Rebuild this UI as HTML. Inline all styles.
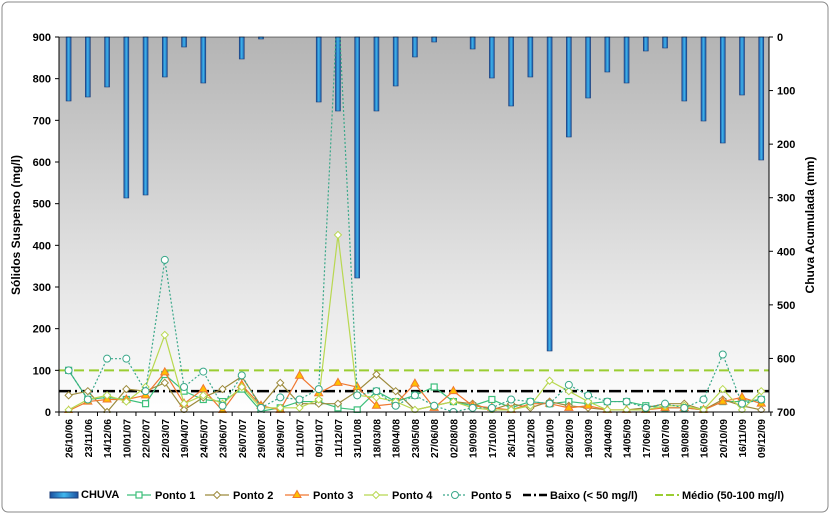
<!DOCTYPE html>
<html><head><meta charset="utf-8"><style>
body{margin:0;background:#fff;font-family:"Liberation Sans",sans-serif;}
</style></head><body>
<svg id="s" width="832" height="516" xmlns="http://www.w3.org/2000/svg" font-family="Liberation Sans, sans-serif">
<defs>
<linearGradient id="bg" x1="0" y1="0" x2="0" y2="1"><stop offset="0" stop-color="#b4b4b4"/><stop offset="1" stop-color="#ffffff"/></linearGradient>
<linearGradient id="bar" x1="0" y1="0" x2="1" y2="0"><stop offset="0" stop-color="#1a4fa0"/><stop offset="0.5" stop-color="#3fb7ee"/><stop offset="1" stop-color="#1a4fa0"/></linearGradient>
<clipPath id="cp"><rect x="59" y="37" width="710" height="376"/></clipPath>
</defs>
<rect x="2" y="2" width="826" height="510" rx="6" fill="#fff" stroke="#888" stroke-width="1"/>
<rect x="59" y="37" width="710" height="375" fill="url(#bg)"/>
<g id="g"></g>
</svg>
<script>
const g=document.getElementById('g');let h='';
const X=i=>68.6+19.24*i, Y=v=>412-v*375/900;
const labels="26/10/06 23/11/06 14/12/06 10/01/07 22/02/07 22/03/07 19/04/07 24/05/07 23/06/07 26/07/07 29/08/07 26/09/07 11/10/07 09/11/07 11/12/07 31/01/08 18/03/08 18/04/08 23/05/08 27/06/08 02/08/08 19/09/08 17/10/08 26/11/08 10/12/08 16/01/09 28/02/09 19/03/09 24/04/09 14/05/09 17/06/09 16/07/09 19/08/09 16/09/09 20/10/09 16/11/09 09/12/09".split(' ');
const bars=[101,97,87,198,195,77,47,83,0,59,39,0,0,102,111,278,111,86,57,42,0,49,78,106,77,351,137,98,72,83,51,48,101,121,143,95,160];
bars.forEach((b,i)=>{if(b>0)h+=`<rect x="${X(i)-2.5}" y="37" width="5" height="${b-37}" fill="url(#bar)" stroke="#1d3f7a" stroke-width="0.6"/>`});
h+=`<line x1="59" y1="${Y(100)}" x2="769" y2="${Y(100)}" stroke="#9acd32" stroke-width="2" stroke-dasharray="10,5"/>`;
h+=`<line x1="59" y1="${Y(50)}" x2="769" y2="${Y(50)}" stroke="#000" stroke-width="2.5" stroke-dasharray="12,4,2,4"/>`;
const S=[
{d:[100,30,35,30,20,90,50,30,25,55,2,10,25,25,10,5,50,25,40,60,25,15,30,10,25,20,25,20,25,25,15,10,10,5,25,25,30],c:'#3cbf7a',m:'sq',dash:''},
{d:[40,50,0,55,50,70,5,35,55,85,15,70,20,20,20,50,90,50,5,15,25,20,5,20,10,25,15,10,5,5,10,20,20,5,30,15,5],c:'#9c8a3c',m:'di',dash:''},
{d:[3,25,30,30,40,95,20,55,3,65,15,5,87,45,70,60,15,20,68,10,50,15,10,5,20,20,10,15,5,5,5,10,10,5,25,35,20],c:'#f07830',m:'tr',dash:''},
{d:[5,30,40,25,60,185,20,40,20,60,10,10,10,30,425,40,35,25,5,15,25,10,5,5,15,75,50,25,5,5,5,15,15,5,55,5,50],c:'#b8d850',m:'di',dash:''},
{d:[100,30,128,128,50,365,60,97,15,88,10,35,30,55,1000,40,50,15,40,15,0,10,10,30,25,20,65,40,25,25,10,20,10,30,138,20,30],c:'#3aa88a',m:'ci',dash:'2,2'}];
function mk(m,x,y,c){if(m=='sq')return `<rect x="${x-3}" y="${y-3}" width="6" height="6" fill="#fff" stroke="${c}" stroke-width="1.2"/>`;
if(m=='di')return `<polygon points="${x},${y-3.5} ${x+3.5},${y} ${x},${y+3.5} ${x-3.5},${y}" fill="#fff" stroke="${c}" stroke-width="1"/>`;
if(m=='tr')return `<polygon points="${x},${y-4.5} ${x+4},${y+2.5} ${x-4},${y+2.5}" fill="#ffc000" stroke="${c}" stroke-width="1"/>`;
return `<circle cx="${x}" cy="${y}" r="3.5" fill="#fff" stroke="${c}" stroke-width="1"/>`;}
h+='<g clip-path="url(#cp)">';
S.forEach(s=>{h+=`<polyline fill="none" stroke="${s.c}" stroke-width="1.2" stroke-dasharray="${s.dash}" points="${s.d.map((v,i)=>X(i)+','+Y(v)).join(' ')}"/>`;
s.d.forEach((v,i)=>{if(v<=900)h+=mk(s.m,X(i),Y(v),s.c)})});
h+='</g>';
h+=`<line x1="59" y1="37" x2="59" y2="412" stroke="#000"/><line x1="769" y1="37" x2="769" y2="412" stroke="#000"/><line x1="59" y1="412" x2="769" y2="412" stroke="#000"/><line x1="59" y1="37" x2="769" y2="37" stroke="#000" stroke-width="0.5"/>`;
for(let v=0;v<=900;v+=100){const y=Y(v);h+=`<line x1="55" y1="${y}" x2="59" y2="${y}" stroke="#000"/><text x="51" y="${y+4}" font-size="11" font-weight="bold" text-anchor="end">${v}</text>`;}
for(let v=0;v<=700;v+=100){const y=37+v*375/700;h+=`<line x1="769" y1="${y}" x2="773" y2="${y}" stroke="#000"/><text x="777" y="${y+4}" font-size="11" font-weight="bold">${v}</text>`;}
for(let i=0;i<=37;i++){const x=59+19.24*i;h+=`<line x1="${x}" y1="412" x2="${x}" y2="416" stroke="#000"/>`;}
labels.forEach((l,i)=>{h+=`<text transform="translate(${X(i)+4},419) rotate(-90)" font-size="10" font-weight="bold" text-anchor="end">${l}</text>`});
h+=`<text transform="translate(20,225) rotate(-90)" font-size="12" font-weight="bold" text-anchor="middle">Sólidos Suspenso (mg/l)</text>`;
h+=`<text transform="translate(814,225) rotate(-90)" font-size="12" font-weight="bold" text-anchor="middle">Chuva Acumulada (mm)</text>`;
const ly=496;
h+=`<rect x="50" y="${ly-4}" width="28" height="6" fill="url(#bar)" stroke="#1d3f7a"/><text x="81" y="${ly+2}" font-size="11" font-weight="bold">CHUVA</text>`;
const leg=[[127,'Ponto 1',0],[205,'Ponto 2',1],[285,'Ponto 3',2],[364,'Ponto 4',3],[443,'Ponto 5',4]];
leg.forEach(([x,t,k])=>{const s=S[k];h+=`<line x1="${x}" y1="${ly-1}" x2="${x+24}" y2="${ly-1}" stroke="${s.c}" stroke-width="1.2" stroke-dasharray="${s.dash}"/>`+mk(s.m,x+12,ly-1,s.c)+`<text x="${x+28}" y="${ly+3}" font-size="11" font-weight="bold">${t}</text>`});
h+=`<line x1="523" y1="${ly-1}" x2="547" y2="${ly-1}" stroke="#000" stroke-width="2.5" stroke-dasharray="8,3,2,3"/><text x="550" y="${ly+3}" font-size="11" font-weight="bold">Baixo (&lt; 50 mg/l)</text>`;
h+=`<line x1="655" y1="${ly-1}" x2="679" y2="${ly-1}" stroke="#9acd32" stroke-width="2" stroke-dasharray="8,3"/><text x="682" y="${ly+3}" font-size="11" font-weight="bold">Médio (50-100  mg/l)</text>`;
g.innerHTML=h;
</script>
</body></html>
